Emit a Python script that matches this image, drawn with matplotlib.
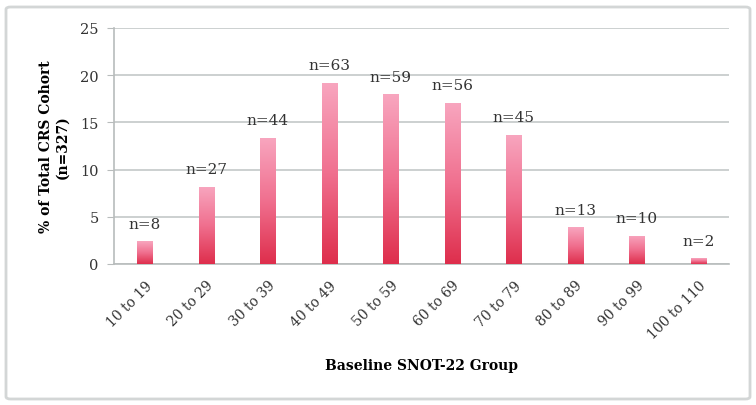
import numpy as np
import matplotlib
matplotlib.use("Agg")
import matplotlib.pyplot as plt
from matplotlib.colors import LinearSegmentedColormap
from matplotlib.patches import FancyBboxPatch

groups = ["10 to 19", "20 to 29", "30 to 39", "40 to 49", "50 to 59",
          "60 to 69", "70 to 79", "80 to 89", "90 to 99", "100 to 110"]
pct = [2.4, 8.2, 13.4, 19.2, 18.0, 17.1, 13.7, 3.9, 3.0, 0.6]
counts_text = ["n=8", "n=27", "n=44", "n=63", "n=59",
               "n=56", "n=45", "n=13", "n=10", "n=2"]

plt.rcParams["font.family"] = ["DejaVu Serif"]

fig = plt.figure(figsize=(7.56, 4.06), dpi=100)
ax = fig.add_axes([114 / 756, 1 - 265 / 406, (729 - 114) / 756, (265 - 29) / 406])

# light frame around the whole chart
frame = FancyBboxPatch((6 / 756, 6 / 406), 744 / 756, 392 / 406,
                       boxstyle="round,pad=0,rounding_size=0.006",
                       transform=fig.transFigure, fill=False,
                       edgecolor="#d3d6d6", linewidth=2)
fig.patches.append(frame)

x = np.arange(len(groups))
bars = ax.bar(x, pct, width=0.25, color="none", edgecolor="none", zorder=3)

cmap = LinearSegmentedColormap.from_list("pinkred", ["#de2e4c", "#f0708f", "#f8a6bf"])
grad = np.linspace(0, 1, 256).reshape(-1, 1)
for b in bars:
    x0, w, h = b.get_x(), b.get_width(), b.get_height()
    im = ax.imshow(grad, cmap=cmap, origin="lower", aspect="auto",
                   extent=(x0, x0 + w, 0, h), zorder=3)
    im.set_clip_path(b)

for xi, v, t in zip(x, pct, counts_text):
    ax.text(xi, v + 1.1, t, ha="center", va="bottom", fontsize=11, color="#333333")

ax.set_xlim(-0.5, len(groups) - 0.5)
ax.set_ylim(0, 25)
ax.set_yticks([0, 5, 10, 15, 20, 25])
ax.set_xticks(x)
ax.set_xticklabels(groups, rotation=45, ha="right", rotation_mode="anchor", fontsize=10)
ax.tick_params(axis="x", length=0, pad=10, labelcolor="#333333")
ax.tick_params(axis="y", length=5, color="#b8bcbc", labelsize=10.5, pad=6, labelcolor="#333333")

ax.grid(axis="y", color="#c4c8c8", linewidth=1.2, zorder=0)
ax.set_axisbelow(True)
for s in ["top", "right"]:
    ax.spines[s].set_visible(False)
for s in ["left", "bottom"]:
    ax.spines[s].set_color("#b8bcbc")
    ax.spines[s].set_linewidth(1.2)

ax.set_ylabel("% of Total CRS Cohort\n(n=327)", fontsize=10, fontweight="bold", labelpad=8)
ax.set_xlabel("Baseline SNOT-22 Group", fontsize=10, fontweight="bold", labelpad=12)

fig.savefig("out.png", dpi=100)
